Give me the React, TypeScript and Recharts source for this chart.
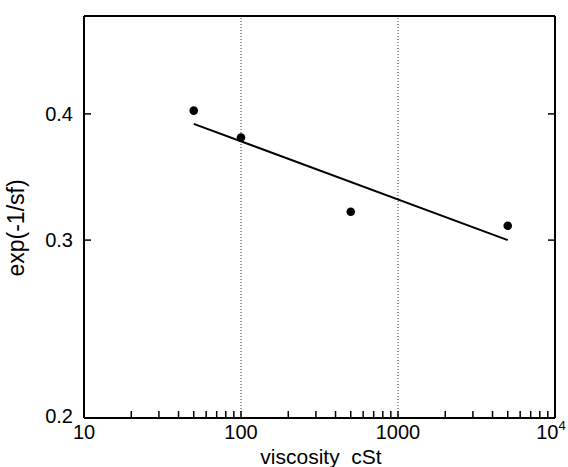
import React from 'react';
import { ComposedChart, Scatter, XAxis, YAxis, ReferenceLine } from 'recharts';

const viscosity = [50, 100, 500, 5000];
const expValues = [0.403, 0.379, 0.32, 0.31];
const fitX = [50, 5000];
const fitY = [0.391, 0.3];
const xMajorTicks = [10, 100, 1000, 10000];
const xMinorTicks = [20, 30, 40, 50, 60, 70, 80, 90, 200, 300, 400, 500, 600, 700, 800, 900, 2000, 3000, 4000, 5000, 6000, 7000, 8000, 9000];
const yTicks = [0.2, 0.3, 0.4];
const gridX = [100, 1000];

const points = viscosity.map((x, i) => ({ x, y: expValues[i] }));
const fit = fitX.map((x, i) => ({ x, y: fitY[i] }));
const xAllTicks = [...xMajorTicks, ...xMinorTicks].sort((a, b) => a - b);

const FONT = '"Liberation Sans", Arial, Helvetica, sans-serif';

const XTick = (props: any) => {
  const { x, y, payload } = props;
  const v = payload.value;
  if (!xMajorTicks.includes(v)) return <g />;
  if (v === 10000) {
    return (
      <text x={x - 4} y={y} textAnchor="middle" fontSize={20} fontFamily={FONT} fill="#000">
        <tspan>10</tspan>
        <tspan dy={-9} fontSize={13}>4</tspan>
      </text>
    );
  }
  return (
    <text x={x} y={y} textAnchor="middle" fontSize={20} fontFamily={FONT} fill="#000">
      {String(v)}
    </text>
  );
};

const YTick = (props: any) => {
  const { x, y, payload } = props;
  const v = payload.value;
  return (
    <text x={x} y={v === 0.2 ? y - 2 : y} dy="0.36em" textAnchor="end" fontSize={20} fontFamily={FONT} fill="#000">
      {v.toFixed(1)}
    </text>
  );
};

const EmptyTick = () => <g />;
const Dot = (props: any) => <circle cx={props.cx} cy={props.cy} r={4.3} fill="#000" />;
const NoShape = () => <g />;

export default function App() {
  const axisLine = { stroke: '#000', strokeWidth: 2 };
  const tickLine = { stroke: '#000', strokeWidth: 1.5 };
  return (
    <div style={{ position: 'absolute', left: 0, top: 0, background: '#fff' }}>
      <ComposedChart width={568} height={467} margin={{ top: 15, right: 12, bottom: 0, left: 0 }}>
        <XAxis
          xAxisId={0}
          dataKey="x"
          type="number"
          scale="log"
          domain={[10, 10000]}
          allowDataOverflow
          ticks={xAllTicks}
          interval={0}
          height={49}
          axisLine={axisLine}
          tickLine={tickLine}
          tickSize={-7}
          tickMargin={28}
          tick={<XTick />}
          label={{
            content: (p: any) => {
              const vb = p.viewBox;
              return (
                <text x={vb.x + vb.width / 2 + 1.5} y={464} textAnchor="middle" fontSize={21} fontFamily={FONT} fill="#000">
                  {'viscosity\u00a0 cSt'}
                </text>
              );
            },
          }}
        />
        <XAxis
          xAxisId="top"
          orientation="top"
          type="number"
          scale="log"
          domain={[10, 10000]}
          allowDataOverflow
          ticks={xAllTicks}
          interval={0}
          height={1}
          axisLine={axisLine}
          tickLine={tickLine}
          tickSize={-7}
          tick={<EmptyTick />}
        />
        <YAxis
          yAxisId={0}
          dataKey="y"
          type="number"
          scale="log"
          domain={[0.2, 0.5]}
          allowDataOverflow
          ticks={yTicks}
          interval={0}
          width={84}
          axisLine={axisLine}
          tickLine={tickLine}
          tickSize={-7}
          tickMargin={18}
          tick={<YTick />}
          label={{
            content: () => {
              const cx = 24;
              const cy = 228;
              return (
                <text x={cx} y={cy} transform={`rotate(-90 ${cx} ${cy})`} textAnchor="middle" fontSize={23} fontFamily={FONT} fill="#000">
                  exp(-1/sf)
                </text>
              );
            },
          }}
        />
        <YAxis
          yAxisId="right"
          orientation="right"
          type="number"
          scale="log"
          domain={[0.2, 0.5]}
          allowDataOverflow
          ticks={[0.3, 0.4]}
          interval={0}
          width={1}
          axisLine={axisLine}
          tickLine={tickLine}
          tickSize={-7}
          tick={<EmptyTick />}
        />
        {gridX.map((g) => (
          <ReferenceLine key={g} x={g} xAxisId={0} yAxisId={0} stroke="#333" strokeWidth={1} strokeDasharray="1 2" />
        ))}
        <Scatter data={fit} xAxisId={0} yAxisId={0} line={{ stroke: '#000', strokeWidth: 2 }} shape={<NoShape />} isAnimationActive={false} />
        <Scatter data={points} xAxisId={0} yAxisId={0} shape={<Dot />} isAnimationActive={false} />
      </ComposedChart>
    </div>
  );
}
